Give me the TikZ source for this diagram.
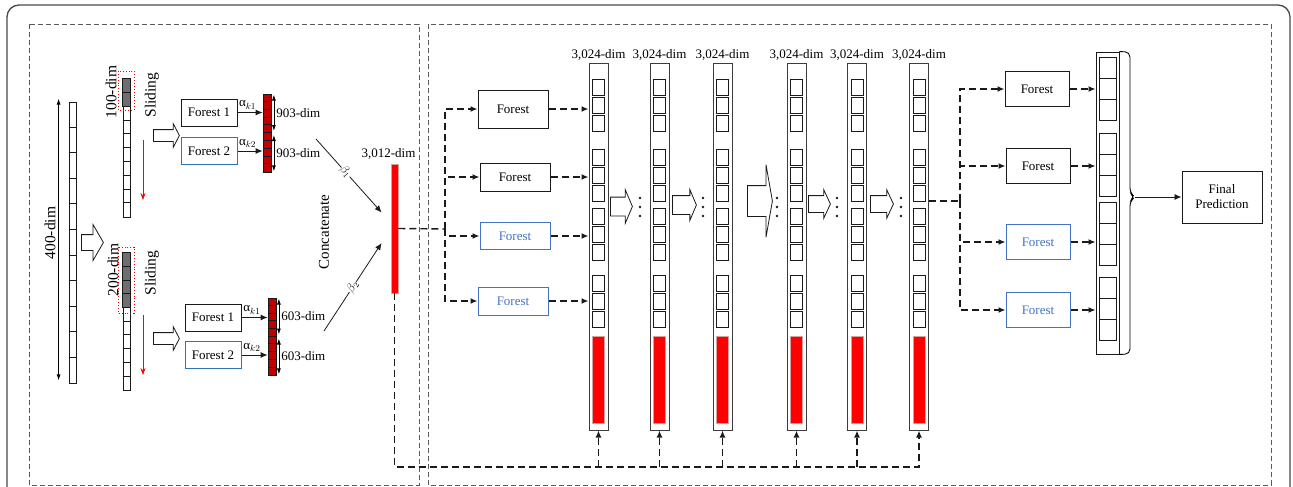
\documentclass[tikz,border=0pt]{standalone}
\usepackage{fontspec}
\setmainfont{Liberation Serif}
\usetikzlibrary{arrows.meta, positioning, calc, shapes.arrows}
\definecolor{ink}{HTML}{1A1A1A}
\definecolor{panelgray}{HTML}{5A5A5A}
\definecolor{edgeblue}{HTML}{2E75B6}
\definecolor{skyblue}{HTML}{4472C4}
\definecolor{darkred}{HTML}{C00000}
\definecolor{cellgray}{HTML}{6E6E6E}
\definecolor{barred}{HTML}{FF0000}
\definecolor{barrim}{HTML}{D9A0A0}
\tikzset{
  txt/.style        = {font=\fontsize{13}{15}\selectfont, inner sep=1pt},
  rotlabel/.style   = {font=\fontsize{15.5}{17}\selectfont, rotate=90, inner sep=1pt},
  forest/.style     = {rectangle, draw=ink, line width=1pt, fill=white,
                       minimum width=56pt, minimum height=27pt, inner sep=2pt,
                       font=\fontsize{13}{15}\selectfont},
  forestblue/.style = {forest, draw=edgeblue},
  forestsky/.style  = {forest, draw=skyblue, text=skyblue},
  vec/.style        = {rectangle, draw=ink, line width=0.8pt, minimum width=7pt, inner sep=0pt},
  redvec/.style     = {vec, fill=darkred, minimum width=8pt},
  stackcol/.style   = {rectangle, draw=ink!85, line width=1pt, minimum width=19pt,
                       minimum height=366pt, inner sep=0pt},
  cell/.style       = {draw=ink, line width=0.8pt},
  redbar/.style     = {fill=barred, draw=barrim, line width=0.8pt},
  window/.style     = {draw=red, dotted, line width=0.9pt},
  slide/.style      = {-{Stealth[length=7pt,width=5pt]}, draw=red, line width=0.8pt},
  hollow/.style     = {single arrow, draw=ink, fill=white, line width=0.8pt, inner xsep=0pt,
                       anchor=tail, single arrow tip angle=130},
  feed/.style       = {line width=1.4pt, draw=ink, dash pattern=on 7pt off 4pt},
  feedarrow/.style  = {feed, -{Latex[length=7pt,width=6pt]}},
  flow/.style       = {-{Latex[length=7pt,width=6pt]}, line width=0.9pt, draw=ink},
  dimarrow/.style   = {{Latex[length=6pt,width=4pt]}-{Latex[length=6pt,width=4pt]}, line width=0.8pt},
  panel/.style      = {draw=panelgray, line width=0.8pt, dash pattern=on 5pt off 3pt},
}

\begin{document}
\begin{tikzpicture}[x=1pt, y=-1pt]
  \useasboundingbox (0,0) rectangle (1293,487);
  \draw[line width=1.3pt, draw=ink!80, rounded corners=12pt] (7,5) rectangle (1290,540);
  \draw[panel] (29,24) rectangle (419,485);
  \draw[panel] (428,24) rectangle (1271,485);

  % input vector and sliding windows
  \node[vec, minimum height=281pt] (v400) at (72.5,242.5) {};
  \foreach \i in {1,...,10}
    \draw[cell] ([yshift={-\i*25.55pt}]v400.north west) -- ([yshift={-\i*25.55pt}]v400.north east);
  \draw[dimarrow] ([xshift=-10pt,yshift=3pt]v400.north west) -- ([xshift=-10pt,yshift=3pt]v400.south west);
  \node[rotlabel] (l400) at (50,233) {400-dim};
  \node[hollow, minimum height=22pt, minimum width=35pt, inner ysep=7.5pt,
        single arrow head extend=10pt, single arrow tip angle=120] (big) at (81,242.5) {};

  \node[vec, minimum height=138pt] (v100) at (126.5,148) {};
  \draw[cell, fill=cellgray] (v100.north west) rectangle ([yshift=-27.6pt]v100.north east);
  \foreach \i in {1,...,9}
    \draw[cell] ([yshift={-\i*13.8pt}]v100.north west) -- ([yshift={-\i*13.8pt}]v100.north east);
  \draw[window] (118,71) rectangle (134,110);
  \node[rotlabel] (l100) at (111,92) {100-dim};
  \node[rotlabel] (sl1) at (152,95) {Sliding};
  \draw[slide] (143,140) -- (143,200);

  \node[vec, minimum height=137pt] (v200) at (126.5,321.5) {};
  \draw[cell, fill=cellgray] (v200.north west) rectangle ([yshift=-54.8pt]v200.north east);
  \foreach \i in {1,...,9}
    \draw[cell] ([yshift={-\i*13.7pt}]v200.north west) -- ([yshift={-\i*13.7pt}]v200.north east);
  \draw[window] (118,247) rectangle (134,313);
  \node[rotlabel] (l200) at (113,270) {200-dim};
  \node[rotlabel] (sl2) at (152,273) {Sliding};
  \draw[slide] (143,315) -- (143,375);

  % first-level forests
  \node[hollow, minimum height=26pt, minimum width=23pt, inner ysep=5.5pt,
        single arrow head extend=6pt, single arrow tip angle=125] (h1) at (153,135.5) {};
  \node[hollow, minimum height=26pt, minimum width=23pt, inner ysep=5.5pt,
        single arrow head extend=6pt, single arrow tip angle=125] (h2) at (153,338.5) {};
  \node[forest] (f11) at (209,112.5) {Forest 1};
  \node[forestblue] (f12) at (209,151) {Forest 2};
  \node[forest] (f21) at (213,317.5) {Forest 1};
  \node[forestblue] (f22) at (213,355) {Forest 2};

  \node[redvec, minimum height=78pt] (r1) at (267,133) {};
  \foreach \i in {1,...,9}
    \draw[cell] ([yshift={-\i*7.8pt}]r1.north west) -- ([yshift={-\i*7.8pt}]r1.north east);
  \node[redvec, minimum height=77pt] (r2) at (272,336.5) {};
  \foreach \i in {1,...,9}
    \draw[cell] ([yshift={-\i*7.7pt}]r2.north west) -- ([yshift={-\i*7.7pt}]r2.north east);

  \draw[flow] (f11.east) -- (f11.east -| r1.west) node[txt, pos=0.4, above=2pt] {α$_{k1}$};
  \draw[flow] (f12.east) -- (f12.east -| r1.west) node[txt, pos=0.4, above=2pt] {α$_{k2}$};
  \draw[flow] (f21.east) -- (f21.east -| r2.west) node[txt, pos=0.4, above=2pt] {α$_{k1}$};
  \draw[flow] (f22.east) -- (f22.east -| r2.west) node[txt, pos=0.4, above=2pt] {α$_{k2}$};

  \draw[dimarrow] ([xshift=2.5pt,yshift=-1pt]r1.north east) -- ([xshift=2.5pt,yshift=2pt]r1.east)
    node[txt, midway, right=1pt] {903-dim};
  \draw[dimarrow] ([xshift=2.5pt,yshift=-2pt]r1.east) -- ([xshift=2.5pt,yshift=1pt]r1.south east)
    node[txt, midway, right=1pt] {903-dim};
  \draw[dimarrow] ([xshift=2.5pt,yshift=-1pt]r2.north east) -- ([xshift=2.5pt,yshift=2pt]r2.east)
    node[txt, midway, right=1pt] {603-dim};
  \draw[dimarrow] ([xshift=2.5pt,yshift=-2pt]r2.east) -- ([xshift=2.5pt,yshift=1pt]r2.south east)
    node[txt, midway, right=1pt] {603-dim};

  % concatenation
  \node[rectangle, redbar, minimum width=7pt, minimum height=129pt, inner sep=0pt] (cat) at (394.5,228.5) {};
  \node[txt, above=3pt of cat.north, xshift=-6pt] (l3012) {3,012-dim};
  \node[rotlabel, font=\fontsize{15}{17}\selectfont] (lcat) at (324,232) {Concatenate};
  \coordinate (b1s) at (316,139);
  \coordinate (b2s) at (324,331);
  \draw[flow, line width=0.8pt] (b1s) -- ([xshift=-9pt,yshift=16pt]cat.west)
    node[pos=0.45, sloped, fill=white, inner sep=0.3pt, font=\fontsize{12}{13}\selectfont] {$\beta_1$};
  \draw[flow, line width=0.8pt] (b2s) -- ([xshift=-9pt,yshift=-14.5pt]cat.west)
    node[midway, sloped, fill=white, inner sep=0.3pt, font=\fontsize{12}{13}\selectfont] {$\beta_2$};

  % cascade forests
  \node[forest, minimum width=70pt, minimum height=38pt] (fa) at (513,109) {Forest};
  \node[forest, minimum width=70pt, minimum height=28pt] (fb) at (515,177) {Forest};
  \node[forestsky, minimum width=70pt, minimum height=27pt] (fc) at (515,236) {Forest};
  \node[forestsky, minimum width=70pt, minimum height=28pt] (fd) at (513,301) {Forest};
  \coordinate (tk) at (445,229);
  \draw[feed] (cat.east) -- (tk);
  \foreach \f in {fa,fb,fc,fd}
    \draw[feedarrow] (tk) |- (\f.west);

  \foreach \x [count=\n] in {598.5,659.5,722.5,796.5,857,919} {
    \node[stackcol] (c\n) at (\x,247) {};
    \node[txt, above=2pt of c\n.north] {3,024-dim};
    \foreach \g in {79,149,208,275}
      \foreach \k in {0,1,2}
        \draw[cell] ({\x-6},{\g+\k*18}) rectangle ++(12,16);
    \draw[redbar] ({\x-6},336) rectangle ({\x+6},423);
  }
  \foreach \f in {fa,fb,fc,fd}
    \draw[feedarrow] (\f.east) -- (\f.east -| c1.west);

  \node[hollow, minimum height=22pt, minimum width=33pt, inner ysep=9pt,
        single arrow head extend=7.5pt, single arrow tip angle=134] (ar1) at (610,206.5) {};
  \node[hollow, minimum height=24pt, minimum width=30pt, inner ysep=9pt,
        single arrow head extend=6pt, single arrow tip angle=134] (ar2) at (672,205) {};
  \node[hollow, minimum height=25pt, minimum width=72pt, inner ysep=15pt,
        single arrow head extend=21pt, single arrow tip angle=160] (ar3) at (747,201) {};
  \node[hollow, minimum height=22pt, minimum width=28pt, inner ysep=8pt,
        single arrow head extend=6pt, single arrow tip angle=130] (ar4) at (808,204) {};
  \node[hollow, minimum height=23pt, minimum width=28pt, inner ysep=8pt,
        single arrow head extend=6pt, single arrow tip angle=130] (ar5) at (870,204) {};
  \foreach \x in {640,703,777,837,901}
    \foreach \yy in {198,207,216}
      \fill[ink] (\x,\yy) circle (1.3pt);

  % feedback of the concatenated vector
  \coordinate (bot) at (394,467);
  \draw[feedarrow] (cat.south) |- (bot -| c6.south) -- (c6.south);
  \foreach \n in {1,...,5}
    \draw[feedarrow] (bot -| c\n.south) -- (c\n.south);

  % last layer and prediction
  \node[forest, minimum width=64pt, minimum height=35pt] (g1) at (1037,89) {Forest};
  \node[forest, minimum width=64pt, minimum height=35pt] (g2) at (1038,166) {Forest};
  \node[forestsky, minimum width=64pt, minimum height=35pt] (g3) at (1038,242) {Forest};
  \node[forestsky, minimum width=64pt, minimum height=35pt] (g4) at (1038,310) {Forest};
  \node[rectangle, draw=ink, line width=0.9pt, minimum width=23pt, minimum height=302pt,
        inner sep=0pt] (st) at (1107.5,203) {};
  \foreach \g in {57,133,202,277}
    \foreach \k in {0,1,2}
      \draw[cell] (1099,{\g+\k*21}) rectangle ++(17,21);
  \coordinate (tk2) at (960,201);
  \draw[feed] (c6.east |- tk2) -- (tk2);
  \foreach \f in {g1,g2,g3,g4} {
    \draw[feedarrow] (tk2) |- (\f.west);
    \draw[feedarrow] (\f.east) -- (\f.east -| st.west);
  }
  \coordinate (tip) at (1135,197);
  \draw[line width=0.9pt, rounded corners=5pt] (st.north east) -- (1130,52) -- (1130,193)
    -- (tip) -- (1130,201) -- (1130,354) -- (st.south east);
  \node[forest, minimum width=80pt, minimum height=52pt, align=center] (fp) at (1222,197) {Final\\Prediction};
  \draw[flow] (tip) -- (fp.west);
\end{tikzpicture}
\end{document}
